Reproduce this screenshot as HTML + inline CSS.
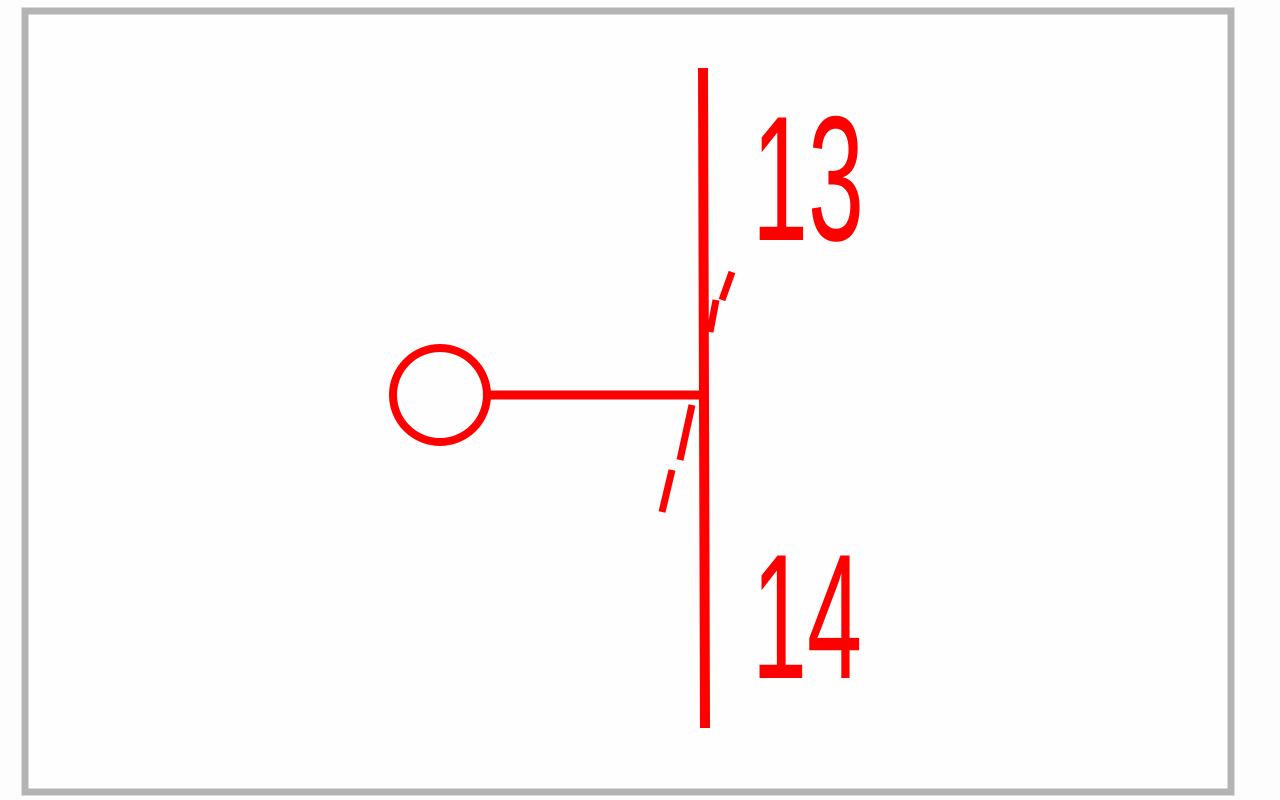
<!DOCTYPE html>
<html><head><meta charset="utf-8"><style>html,body{margin:0;padding:0;background:#fff;width:1280px;height:800px;overflow:hidden}</style></head>
<body>
<svg width="1280" height="800" viewBox="0 0 1280 800" xmlns="http://www.w3.org/2000/svg">
<rect x="0" y="0" width="1280" height="800" fill="#fdfdfd"/>
<rect x="25" y="11" width="1206" height="781" fill="#fefefe" stroke="#b4b4b4" stroke-width="7"/>
<g stroke="#ff0000" fill="none" stroke-linecap="butt">
<line x1="703" y1="68" x2="705" y2="728" stroke-width="10"/>
<line x1="488" y1="395" x2="703" y2="395" stroke-width="9"/>
<circle cx="440" cy="395" r="47" stroke-width="8"/>
<path d="M732 272 L722 300 M716 300 L710 332" stroke-width="7"/>
<path d="M692 405 L680 460 M672 470 L662 512" stroke-width="7"/>
</g>
<g fill="#ff0000" font-family="Liberation Sans, sans-serif" font-size="178">
<text x="752" y="240" textLength="112" lengthAdjust="spacingAndGlyphs" transform="translate(752 240) scale(1 1) translate(-752 -240)">13</text>
<text x="752" y="678" textLength="110" lengthAdjust="spacingAndGlyphs">14</text>
</g>
</svg>
</body></html>
